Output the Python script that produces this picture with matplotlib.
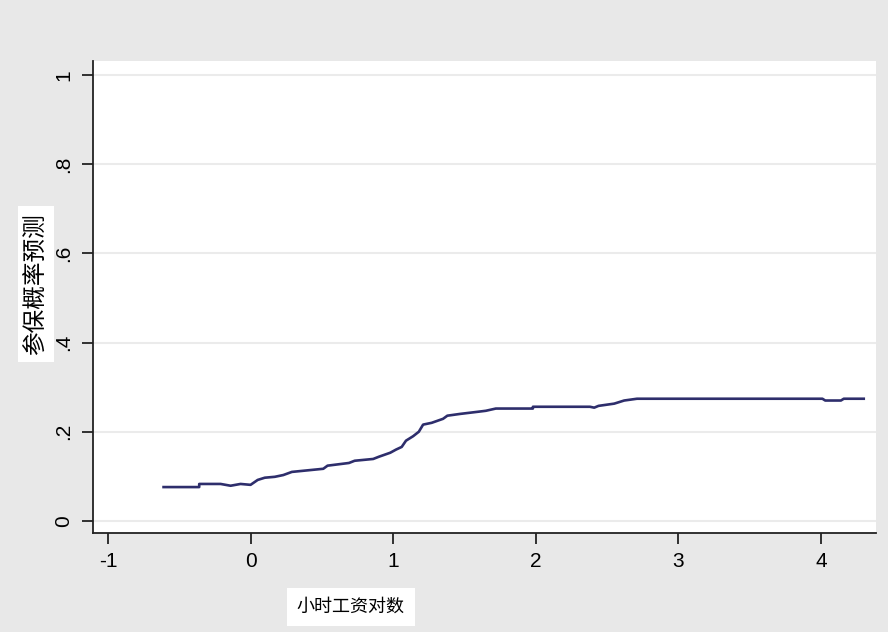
import matplotlib
matplotlib.use("Agg")
import matplotlib.pyplot as plt

# predicted probability of insurance vs log hourly wage
wage_log = [-0.61, -0.36, -0.36, -0.21, -0.14, -0.07, 0.0, 0.05, 0.10, 0.17,
            0.23, 0.29, 0.51, 0.54, 0.69, 0.73, 0.86, 0.90, 0.98, 1.02,
            1.06, 1.09, 1.14, 1.18, 1.21, 1.27, 1.35, 1.38, 1.47, 1.60,
            1.65, 1.72, 1.98, 1.98, 2.38, 2.41, 2.44, 2.55, 2.62, 2.71,
            4.01, 4.03, 4.14, 4.16, 4.30]
prob = [0.076, 0.076, 0.083, 0.083, 0.079, 0.083, 0.081, 0.092, 0.097, 0.099,
        0.103, 0.110, 0.117, 0.124, 0.130, 0.135, 0.139, 0.144, 0.153, 0.160,
        0.166, 0.180, 0.190, 0.200, 0.216, 0.220, 0.229, 0.236, 0.240, 0.245,
        0.247, 0.252, 0.252, 0.256, 0.256, 0.254, 0.258, 0.263, 0.270, 0.274,
        0.274, 0.270, 0.270, 0.274, 0.274]

x_ticks = [-1, 0, 1, 2, 3, 4]
x_labels = ["-1", "0", "1", "2", "3", "4"]
y_ticks = [0, 0.2, 0.4, 0.6, 0.8, 1]
y_labels = ["0", ".2", ".4", ".6", ".8", "1"]

x_title = "小时工资对数"
y_title = "参保概率预测"

cjk = ["Noto Sans CJK SC", "DejaVu Sans"]

fig = plt.figure(figsize=(8.88, 6.32), dpi=100)
fig.patch.set_facecolor("#e8e8e8")
ax = fig.add_axes([0.1047, 0.1566, 0.8818, 0.7469])
ax.set_facecolor("white")

ax.plot(wage_log, prob, color="#2e2e6c", lw=1.9)

ax.set_xlim(-1.105, 4.386)
ax.set_ylim(-0.027, 1.031)
ax.set_xticks(x_ticks)
ax.set_xticklabels(x_labels, fontfamily="Liberation Sans", fontsize=15)
ax.set_yticks(y_ticks)
ax.set_yticklabels(y_labels, fontfamily="Liberation Sans", fontsize=15,
                   rotation=90, va="center")
ax.tick_params(direction="out", length=8, width=1.3, color="#222222", pad=6)
ax.grid(axis="y", color="#ebebeb", lw=1.5)
ax.set_axisbelow(True)
for s in ["top", "right"]:
    ax.spines[s].set_visible(False)
for s in ["left", "bottom"]:
    ax.spines[s].set_linewidth(1.3)
    ax.spines[s].set_color("#222222")

fig.text(0.0405, 0.5506, y_title, rotation=90, ha="center", va="center",
         fontsize=17, family=cjk,
         bbox=dict(facecolor="white", edgecolor="none", pad=5))
fig.text(0.395, 0.0396, x_title, ha="center", va="center",
         fontsize=13, family=cjk,
         bbox=dict(facecolor="white", edgecolor="none", pad=7))

fig.savefig("out.png", dpi=100, facecolor=fig.get_facecolor())
